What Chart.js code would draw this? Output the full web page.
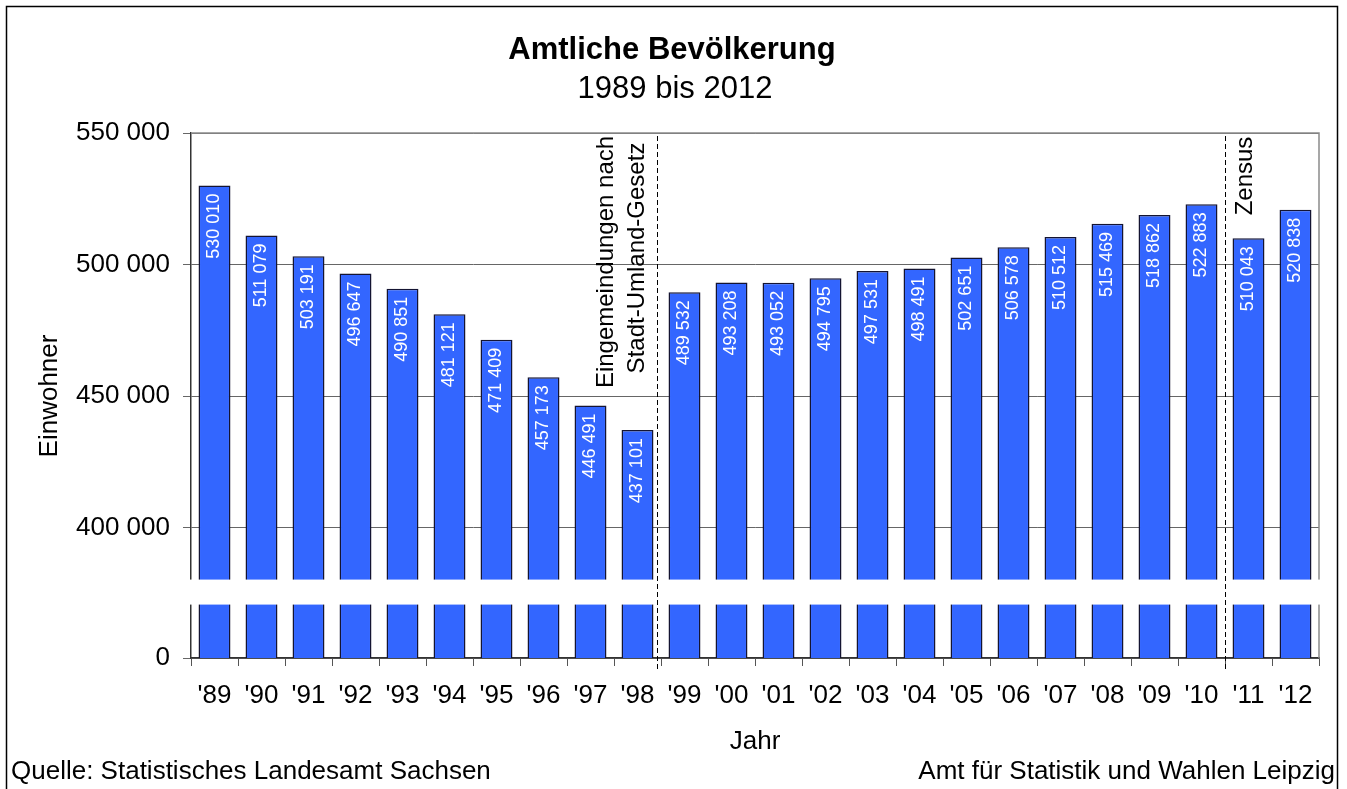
<!DOCTYPE html>
<html lang="de">
<head>
<meta charset="utf-8">
<title>Amtliche Bevölkerung 1989 bis 2012</title>
<script src="https://cdn.jsdelivr.net/npm/chart.js@4.4.1/dist/chart.umd.min.js"></script>
<style>
    html, body { margin: 0; padding: 0; background: #ffffff; }
    #wrap { width: 1347px; height: 789px; }
</style>
</head>
<body>
<div id="wrap"><canvas id="myChart" width="1347" height="789"></canvas></div>
<script>
// Daten
const jahre = ["'89", "'90", "'91", "'92", "'93", "'94", "'95", "'96", "'97", "'98", "'99", "'00",
    "'01", "'02", "'03", "'04", "'05", "'06", "'07", "'08", "'09", "'10", "'11", "'12"];
const einwohner = [530010, 511079, 503191, 496647, 490851, 481121, 471409, 457173, 446491, 437101,
    489532, 493208, 493052, 494795, 497531, 498491, 502651, 506578, 510512, 515469, 518862, 522883,
    510043, 520838];
const yTickWerte = [400000, 450000, 500000, 550000];
const nullLabel = "0";
const titel = "Amtliche Bevölkerung";
const untertitel = "1989 bis 2012";
const quelle = "Quelle: Statistisches Landesamt Sachsen";
const herausgeber = "Amt für Statistik und Wahlen Leipzig";
const hinweisEingemeindung = ["Eingemeindungen nach", "Stadt-Umland-Gesetz"];
const hinweisZensus = "Zensus";

// Achsenbruch: unten steht "0", die Achse beginnt eigentlich bei achseUnten
const achseUnten = 350500;
const bruchVon = 370800, bruchBis = 380300;

const FONT = "'Liberation Sans', Arial, sans-serif";

function formatZahl(v) {
    return String(v).replace(/\B(?=(\d{3})+(?!\d))/g, " ");
}

function textRotiert(ctx, text, x, y, align) {
    ctx.save();
    ctx.translate(x, y);
    ctx.rotate(-Math.PI / 2);
    ctx.textAlign = align;
    ctx.textBaseline = "middle";
    ctx.fillText(text, 0, 0);
    ctx.restore();
}

const beschriftung = {
    id: "beschriftung",
    beforeDraw(chart) {
        const ctx = chart.ctx;
        ctx.save();
        ctx.fillStyle = "#ffffff";
        ctx.fillRect(0, 0, chart.width, chart.height);
        ctx.restore();
    },
    afterDatasetsDraw(chart) {
        const ctx = chart.ctx;
        const area = chart.chartArea;
        const x = chart.scales.x;
        const y = chart.scales.y;

        // Werte in den Balken
        const meta = chart.getDatasetMeta(0);
        ctx.save();
        ctx.fillStyle = "#ffffff";
        ctx.font = "18px " + FONT;
        meta.data.forEach((bar, i) => {
            textRotiert(ctx, formatZahl(einwohner[i]), bar.x, bar.y + 8, "right");
        });
        ctx.restore();

        // Rahmen oben und rechts
        ctx.save();
        ctx.strokeStyle = "#8a8a8a";
        ctx.lineWidth = 1.5;
        ctx.beginPath();
        ctx.moveTo(area.left, area.top);
        ctx.lineTo(area.right, area.top);
        ctx.lineTo(area.right, area.bottom);
        ctx.stroke();
        ctx.restore();

        // Achsenbruch
        const yb1 = y.getPixelForValue(bruchBis);
        const yb2 = y.getPixelForValue(bruchVon);
        ctx.save();
        ctx.fillStyle = "#ffffff";
        ctx.fillRect(area.left - 4, yb1, area.right - area.left + 8, yb2 - yb1);
        ctx.restore();

        // gestrichelte Linien
        const xEin = x.getPixelForValue(9.42);
        const xZen = x.getPixelForValue(21.5);
        ctx.save();
        ctx.strokeStyle = "#000000";
        ctx.lineWidth = 1;
        ctx.setLineDash([5, 3]);
        [xEin, xZen].forEach(px => {
            ctx.beginPath();
            ctx.moveTo(Math.round(px) + 0.5, area.top + 3);
            ctx.lineTo(Math.round(px) + 0.5, area.bottom + 14);
            ctx.stroke();
        });
        ctx.restore();

        // Hinweise
        ctx.save();
        ctx.fillStyle = "#000000";
        ctx.font = "24px " + FONT;
        textRotiert(ctx, hinweisEingemeindung[0], xEin - 50.5, 262, "center");
        textRotiert(ctx, hinweisEingemeindung[1], xEin - 20, 258, "center");
        textRotiert(ctx, hinweisZensus, xZen + 20, 176, "center");
        ctx.restore();
    },
    afterDraw(chart) {
        const ctx = chart.ctx;
        ctx.save();
        ctx.fillStyle = "#000000";
        ctx.textAlign = "center";
        ctx.textBaseline = "alphabetic";
        ctx.font = "bold 31px " + FONT;
        ctx.fillText(titel, 672, 59);
        ctx.font = "31px " + FONT;
        ctx.fillText(untertitel, 675, 98);

        ctx.font = "26px " + FONT;
        textRotiert(ctx, "Einwohner", 50, 396, "center");
        ctx.fillText("Jahr", 755, 749);

        ctx.textAlign = "left";
        ctx.fillText(quelle, 11, 779);
        ctx.textAlign = "right";
        ctx.fillText(herausgeber, 1335, 779);

        // äußerer Rahmen
        ctx.strokeStyle = "#000000";
        ctx.lineWidth = 1.5;
        ctx.strokeRect(6.5, 6.5, 1331, 800);
        ctx.restore();
    }
};

const ctx = document.getElementById("myChart").getContext("2d");

const myChart = new Chart(ctx, {
    type: "bar",
    data: {
        labels: jahre,
        datasets: [{
            label: "Einwohner",
            data: einwohner,
            backgroundColor: "#3366ff",
            borderColor: "#141432",
            borderWidth: 1.5,
            borderSkipped: false,
            barPercentage: 0.68,
            categoryPercentage: 1.0
        }]
    },
    options: {
        responsive: false,
        animation: false,
        devicePixelRatio: 1,
        layout: { padding: { left: 0, top: 133, right: 28, bottom: 71 } },
        plugins: {
            legend: { display: false },
            tooltip: { enabled: false },
            title: { display: false }
        },
        scales: {
            x: {
                offset: true,
                grid: {
                    offset: true,
                    drawOnChartArea: false,
                    drawTicks: true,
                    tickLength: 8,
                    color: "#555555"
                },
                border: { display: true, color: "#333333", width: 1.5 },
                ticks: {
                    color: "#000000",
                    font: { family: FONT, size: 26 },
                    padding: 14,
                    maxRotation: 0,
                    autoSkip: false
                },
                afterFit(scale) { scale.height = 60; }
            },
            y: {
                min: achseUnten,
                max: 550000,
                afterBuildTicks(scale) {
                    scale.ticks = [{ value: achseUnten }].concat(yTickWerte.map(v => ({ value: v })));
                },
                grid: {
                    color: "#666666",
                    lineWidth: 1,
                    drawTicks: true,
                    tickLength: 8
                },
                border: { display: true, color: "#333333", width: 1.5 },
                ticks: {
                    color: "#000000",
                    font: { family: FONT, size: 26 },
                    padding: 13,
                    callback: v => (v === achseUnten ? nullLabel : formatZahl(v))
                },
                afterFit(scale) { scale.width = 191; }
            }
        }
    },
    plugins: [beschriftung]
});
</script>
</body>
</html>
